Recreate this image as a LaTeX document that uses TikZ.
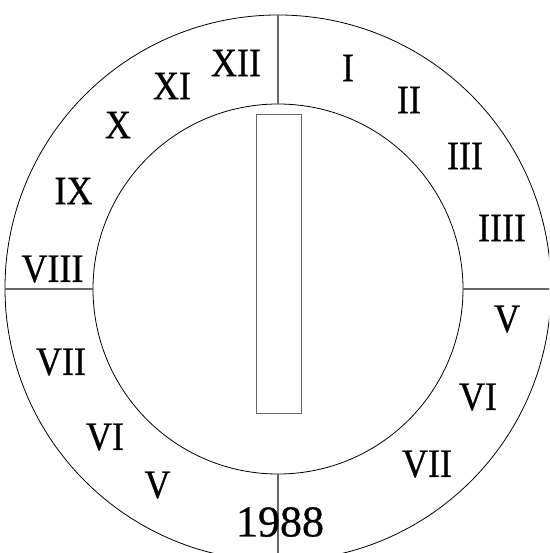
\documentclass[tikz,border=0pt]{standalone}
\usepackage{fontspec}
\setmainfont{Liberation Serif}
\newfontfamily\heavyserif[AutoFakeBold=0.7]{Liberation Serif}
\begin{document}
\begin{tikzpicture}[x=1pt,y=-1pt,
  ring/.style={circle,draw=black,line width=0.8pt,inner sep=0pt},
  divider/.style={draw=black!60,line width=1.1pt},
  num/.style={inner sep=0pt,font=\heavyserif\bfseries\fontsize{36}{40}\selectfont,yscale=1.12,transform shape},
  year/.style={inner sep=0pt,font=\heavyserif\bfseries\fontsize{44}{48}\selectfont}]
\useasboundingbox (0,0) rectangle (549,553);
\clip (0,0) rectangle (549,553);
\node[ring,minimum size=546pt] (outer) at (278,288) {};
\node[ring,minimum size=370pt] (inner) at (278,289) {};
\coordinate (ol) at (5,289);
\coordinate (or) at (560,289);
\coordinate (ob) at (278,570);
\draw[divider] (outer.north) -- (inner.north);
\draw[divider] (inner.south) -- (ob);
\draw[divider] (ol) -- (inner.west);
\draw[divider] (inner.east) -- (or);
\node[draw=black!60,line width=1pt,minimum width=45pt,minimum height=298pt,inner sep=0pt] (bar) at (278.5,264) {};
\node[num] (n12) at (236,63) {XII};
\node[num] (n11) at (172,86) {XI};
\node[num] (n10) at (118,125) {X};
\node[num] (n9) at (73.5,191) {IX};
\node[num] (n8) at (52.5,269) {VIII};
\node[num] (n7l) at (61,362) {VII};
\node[num] (n6l) at (105,437) {VI};
\node[num] (n5l) at (157.5,485) {V};
\node[year] (yr) at (280,522) {1988};
\node[num] (n1) at (348,68) {I};
\node[num] (n2) at (409,100) {II};
\node[num] (n3) at (465,156) {III};
\node[num] (n4) at (502,228) {IIII};
\node[num] (n5r) at (507,319) {V};
\node[num] (n6r) at (478,397) {VI};
\node[num] (n7r) at (427,464) {VII};
\end{tikzpicture}
\end{document}
